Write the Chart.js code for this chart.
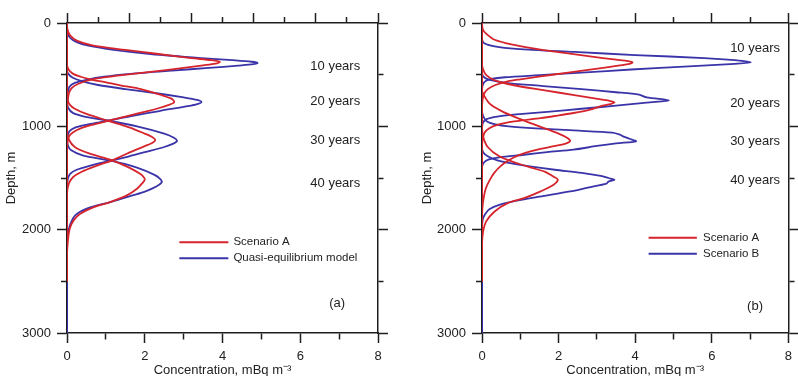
<!DOCTYPE html>
<html><head><meta charset="utf-8">
<script src="https://cdn.jsdelivr.net/npm/chart.js@4.4.1/dist/chart.umd.min.js"></script>
<style>
html,body{margin:0;padding:0;background:#fff;}
#wrap{position:relative;width:798px;height:376px;overflow:hidden;background:#fff;}
canvas{position:absolute;top:0;}
#c1{left:0;}
#c2{left:400px;}
</style></head><body>
<div id="wrap"><canvas id="c1" width="400" height="376"></canvas><canvas id="c2" width="398" height="376"></canvas></div>
<script>
// ---------- DATA (depth in m, concentration in mBq m^-3) ----------
// Panel (a): Scenario A (red) and Quasi-equilibrium model (blue)
const dA_R10 = [0, 60, 120, 170, 216, 260, 300, 340, 360, 377, 393, 410, 435, 470, 510, 545, 590, 630, 680, 750, 850, 2500];
const cA_R10 = [0, 0.01, 0.08, 0.25, 0.65, 1.5, 2.35, 3.2, 3.72, 3.93, 3.82, 3.5, 3.0, 2.2, 1.3, 0.65, 0.28, 0.12, 0.05, 0.02, 0, 0];
const dA_B10 = [0, 80, 140, 185, 220, 260, 300, 340, 360, 375, 387, 398, 412, 435, 460, 490, 520, 550, 580, 620, 700, 800, 3000];
const cA_B10 = [0, 0.01, 0.07, 0.25, 0.55, 1.2, 2.15, 3.45, 4.25, 4.75, 4.9, 4.8, 4.4, 3.65, 2.7, 1.7, 0.95, 0.5, 0.2, 0.06, 0.01, 0, 0];
const dA_R20 = [0, 400, 450, 490, 520, 545, 575, 605, 640, 700, 730, 750, 770, 795, 825, 850, 900, 945, 985, 1020, 1060, 1100, 1160, 1250, 2500];
const cA_R20 = [0, 0, 0.04, 0.15, 0.35, 0.6, 1.0, 1.4, 1.9, 2.45, 2.67, 2.74, 2.75, 2.6, 2.35, 2.1, 1.55, 1.07, 0.65, 0.35, 0.15, 0.05, 0.01, 0, 0];
const dA_B20 = [0, 450, 490, 530, 565, 600, 640, 680, 720, 745, 765, 785, 805, 850, 900, 945, 980, 1010, 1045, 1090, 1150, 3000];
const cA_B20 = [0, 0, 0.03, 0.15, 0.4, 0.8, 1.5, 2.3, 3.0, 3.35, 3.46, 3.35, 3.1, 2.4, 1.65, 1.07, 0.55, 0.22, 0.07, 0.02, 0, 0];
const dA_R30 = [0, 700, 750, 790, 830, 880, 948, 1010, 1070, 1100, 1129, 1155, 1180, 1230, 1280, 1329, 1390, 1440, 1490, 1550, 1650, 2500];
const cA_R30 = [0, 0, 0.02, 0.07, 0.2, 0.5, 1.07, 1.6, 2.0, 2.18, 2.27, 2.22, 2.08, 1.75, 1.45, 1.16, 0.7, 0.38, 0.16, 0.05, 0, 0];
const dA_B30 = [0, 760, 820, 870, 905, 945, 1000, 1070, 1110, 1142, 1170, 1200, 1250, 1290, 1329, 1380, 1420, 1460, 1510, 1600, 3000];
const cA_B30 = [0, 0, 0.03, 0.15, 0.45, 1.07, 1.8, 2.5, 2.75, 2.83, 2.72, 2.5, 2.0, 1.6, 1.16, 0.6, 0.25, 0.08, 0.02, 0, 0];
const dA_R40 = [0, 1050, 1130, 1200, 1260, 1329, 1400, 1460, 1490, 1515, 1545, 1604, 1668, 1733, 1781, 1846, 1910, 1991, 2120, 2250, 2500];
const cA_R40 = [0, 0, 0.05, 0.2, 0.55, 1.16, 1.6, 1.88, 1.97, 2.0, 1.95, 1.8, 1.54, 1.11, 0.69, 0.34, 0.17, 0.07, 0.02, 0, 0];
const dA_B40 = [0, 1120, 1180, 1230, 1280, 1335, 1400, 1470, 1510, 1539, 1565, 1600, 1636, 1684, 1733, 1797, 1862, 1942, 2007, 2100, 3000];
const cA_B40 = [0, 0, 0.02, 0.1, 0.4, 1.16, 1.8, 2.25, 2.4, 2.44, 2.37, 2.2, 1.97, 1.54, 1.11, 0.51, 0.21, 0.09, 0.04, 0, 0];

// Panel (b): Scenario A (red) and Scenario B (blue)
const dB_R10 = [0, 60, 100, 162, 210, 258, 290, 323, 355, 370, 381, 395, 410, 452, 485, 517, 545, 565, 600, 640, 690, 760, 850, 2500];
const cB_R10 = [0, 0.02, 0.1, 0.33, 0.8, 1.53, 2.15, 2.82, 3.5, 3.82, 3.93, 3.85, 3.6, 2.82, 2.15, 1.53, 1.0, 0.67, 0.35, 0.15, 0.05, 0.01, 0, 0];
const dB_B10 = [0, 150, 194, 226, 250, 280, 310, 339, 360, 381, 395, 420, 450, 480, 505, 525, 545, 575, 650, 3000];
const cB_B10 = [0, 0, 0.05, 0.33, 0.9, 2.4, 4.0, 5.8, 6.6, 7.02, 6.6, 5.4, 3.9, 2.6, 1.5, 0.6, 0.2, 0.05, 0, 0];
const dB_R20 = [0, 400, 450, 500, 550, 600, 650, 700, 740, 755, 768, 785, 800, 840, 871, 900, 920, 952, 985, 1020, 1060, 1120, 1200, 2500];
const cB_R20 = [0, 0, 0.03, 0.1, 0.3, 0.8, 1.6, 2.45, 3.1, 3.35, 3.46, 3.35, 3.15, 2.8, 2.39, 1.9, 1.53, 0.84, 0.4, 0.18, 0.07, 0.02, 0, 0];
const dB_B20 = [0, 480, 520, 550, 581, 610, 640, 670, 694, 720, 749, 770, 800, 830, 860, 885, 905, 930, 970, 1050, 3000];
const cB_B20 = [0, 0, 0.04, 0.2, 0.67, 1.6, 2.6, 3.5, 4.1, 4.3, 4.88, 4.3, 3.5, 2.6, 1.7, 0.9, 0.4, 0.12, 0.02, 0, 0];
const dB_R30 = [0, 650, 700, 780, 850, 920, 1000, 1070, 1110, 1140, 1165, 1190, 1226, 1274, 1323, 1380, 1450, 1520, 1600, 1700, 1800, 1900, 2500];
const cB_R30 = [0, 0, 0.05, 0.2, 0.5, 0.93, 1.5, 2.0, 2.22, 2.3, 2.2, 1.92, 1.45, 1.0, 0.72, 0.5, 0.32, 0.2, 0.1, 0.04, 0.01, 0, 0];
const dB_B30 = [0, 850, 900, 950, 980, 1000, 1020, 1040, 1060, 1080, 1100, 1120, 1145, 1165, 1190, 1226, 1250, 1275, 1300, 1320, 1350, 1400, 3000];
const cB_B30 = [0, 0, 0.03, 0.12, 0.35, 0.7, 1.4, 2.4, 3.4, 3.6, 3.7, 3.85, 4.02, 3.5, 3.0, 2.39, 1.7, 1.1, 0.45, 0.18, 0.05, 0, 0];
const dB_R40 = [0, 1000, 1100, 1200, 1290, 1355, 1403, 1440, 1484, 1516, 1565, 1630, 1695, 1743, 1824, 1920, 2017, 2146, 2500];
const cB_R40 = [0, 0, 0.03, 0.15, 0.45, 0.9, 1.31, 1.65, 1.85, 1.98, 1.87, 1.53, 1.1, 0.67, 0.33, 0.11, 0.03, 0, 0];
const dB_B40 = [0, 1200, 1250, 1290, 1330, 1360, 1390, 1420, 1450, 1480, 1500, 1517, 1535, 1555, 1590, 1630, 1680, 1720, 1760, 1800, 1850, 1900, 2000, 3000];
const cB_B40 = [0, 0, 0.03, 0.15, 0.4, 0.8, 1.3, 1.9, 2.6, 3.1, 3.3, 3.46, 3.3, 3.25, 2.8, 2.3, 1.5, 0.9, 0.45, 0.2, 0.08, 0.02, 0, 0];

const yearLabels = ['10 years', '20 years', '30 years', '40 years'];
const legendA = ['Scenario A', 'Quasi-equilibrium model'];
const legendB = ['Scenario A', 'Scenario B'];
const panelTags = ['(a)', '(b)'];
const xTitle = 'Concentration, mBq m\u207B\u00B3';
const yTitle = 'Depth, m';

// ---------- STYLE ----------
const RED = 'rgb(214,36,44)';
const BLUE = 'rgb(58,52,168)';
const AXIS = '#1e1e1e';
const TXT = '#222';
const FONT = '"Liberation Sans", Arial, Helvetica, sans-serif';

function pts(d, c) { return d.map((v, i) => ({ x: c[i], y: v })); }
function ds(d, c, color) {
  return { data: pts(d, c), borderColor: color, backgroundColor: color, borderWidth: 1.8,
           pointRadius: 0, fill: false, tension: 0.3, xAxisID: 'x', yAxisID: 'y' };
}

const annot = {
  id: 'annot',
  afterDatasetsDraw(chart, args, o) {
    const { ctx } = chart;
    const x = chart.scales.x, y = chart.scales.y;
    ctx.save();
    ctx.fillStyle = TXT;
    ctx.textBaseline = 'middle';
    ctx.textAlign = 'center';
    ctx.font = '13px ' + FONT;
    yearLabels.forEach((t, i) => ctx.fillText(t, x.getPixelForValue(o.labX), y.getPixelForValue(o.labY[i])));
    ctx.fillText(o.tag, x.getPixelForValue(o.tagX), y.getPixelForValue(o.tagY));
    // legend
    ctx.font = '11.5px ' + FONT;
    ctx.textAlign = 'left';
    [RED, BLUE].forEach((col, i) => {
      const py = y.getPixelForValue(o.legY[i]);
      ctx.strokeStyle = col; ctx.lineWidth = 2;
      ctx.beginPath();
      ctx.moveTo(x.getPixelForValue(o.legX0), py);
      ctx.lineTo(x.getPixelForValue(o.legX1), py);
      ctx.stroke();
      ctx.fillText(o.legend[i], x.getPixelForValue(o.legTX), py);
    });
    ctx.restore();
  }
};

function grid(minorDash, isMajor) {
  return { drawOnChartArea: false, drawTicks: true, tickLength: 10, tickColor: AXIS, tickWidth: 1.5,
           tickBorderDash: (c) => (c.tick && isMajor(c.tick.value)) ? [] : minorDash };
}
const border = { display: true, color: AXIS, width: 1.5 };

function build(id, cfg) {
  const majX = v => Math.abs(v % 2) < 1e-9;
  const majY = v => Math.abs(v % 1000) < 1e-9;
  return new Chart(document.getElementById(id), {
    type: 'line',
    data: { datasets: cfg.datasets },
    plugins: [annot],
    options: {
      responsive: false, animation: false, devicePixelRatio: 1,
      layout: { padding: 0 },
      plugins: { legend: { display: false }, tooltip: { enabled: false }, annot: cfg.annot },
      scales: {
        x: { type: 'linear', position: 'bottom', min: 0, max: 8,
             afterFit: s => { s.height = 43; },
             ticks: { stepSize: 1, autoSkip: false, padding: 6, color: TXT, font: { family: FONT, size: 13 },
                      maxRotation: 0, callback: v => majX(v) ? String(v) : '' },
             grid: grid([6, 100], majX), border: border,
             title: { display: true, text: xTitle, color: TXT, font: { family: FONT, size: 13 }, padding: { top: 0, bottom: -2 } } },
        xTop: { type: 'linear', axis: 'x', position: 'top', min: 0, max: cfg.topMax,
             afterFit: s => { s.height = 23; },
             ticks: { display: false, stepSize: 1, autoSkip: false },
             grid: grid([0, 4, 6, 100], majX), border: border },
        y: { type: 'linear', position: 'left', reverse: true, min: 0, max: 3000,
             afterFit: s => { s.width = cfg.leftW; },
             ticks: { stepSize: 500, autoSkip: false, padding: 6, color: TXT, font: { family: FONT, size: 13 },
                      callback: v => majY(v) ? String(v) : '' },
             grid: grid([0, 4, 6, 100], majY), border: border,
             title: { display: true, text: yTitle, color: TXT, font: { family: FONT, size: 13 }, padding: { top: cfg.yTitlePad, bottom: 0 } } },
        yRight: { type: 'linear', axis: 'y', position: 'right', reverse: true, min: 0, max: 3000,
             afterFit: s => { s.width = cfg.rightW; },
             ticks: { display: false, stepSize: 500, autoSkip: false },
             grid: grid([5, 100], majY), border: border }
      }
    }
  });
}

build('c1', {
  leftW: 67, rightW: 22, topMax: 10, yTitlePad: 4,
  datasets: [
    ds(dA_R10, cA_R10, RED), ds(dA_R20, cA_R20, RED), ds(dA_R30, cA_R30, RED), ds(dA_R40, cA_R40, RED),
    ds(dA_B10, cA_B10, BLUE), ds(dA_B20, cA_B20, BLUE), ds(dA_B30, cA_B30, BLUE), ds(dA_B40, cA_B40, BLUE)
  ],
  annot: { labX: 6.9, labY: [419, 758, 1135, 1551], tag: panelTags[0], tagX: 6.95, tagY: 2713,
           legX0: 2.89, legX1: 4.15, legTX: 4.28, legY: [2122, 2277], legend: legendA }
});

build('c2', {
  leftW: 82, rightW: 5, topMax: 8, yTitlePad: 20,
  datasets: [
    ds(dB_R10, cB_R10, RED), ds(dB_R20, cB_R20, RED), ds(dB_R30, cB_R30, RED), ds(dB_R40, cB_R40, RED),
    ds(dB_B10, cB_B10, BLUE), ds(dB_B20, cB_B20, BLUE), ds(dB_B30, cB_B30, BLUE), ds(dB_B40, cB_B40, BLUE)
  ],
  annot: { labX: 7.13, labY: [249, 781, 1149, 1527], tag: panelTags[1], tagX: 7.13, tagY: 2746,
           legX0: 4.35, legX1: 5.61, legTX: 5.77, legY: [2078, 2233], legend: legendB }
});
</script>
</body></html>
